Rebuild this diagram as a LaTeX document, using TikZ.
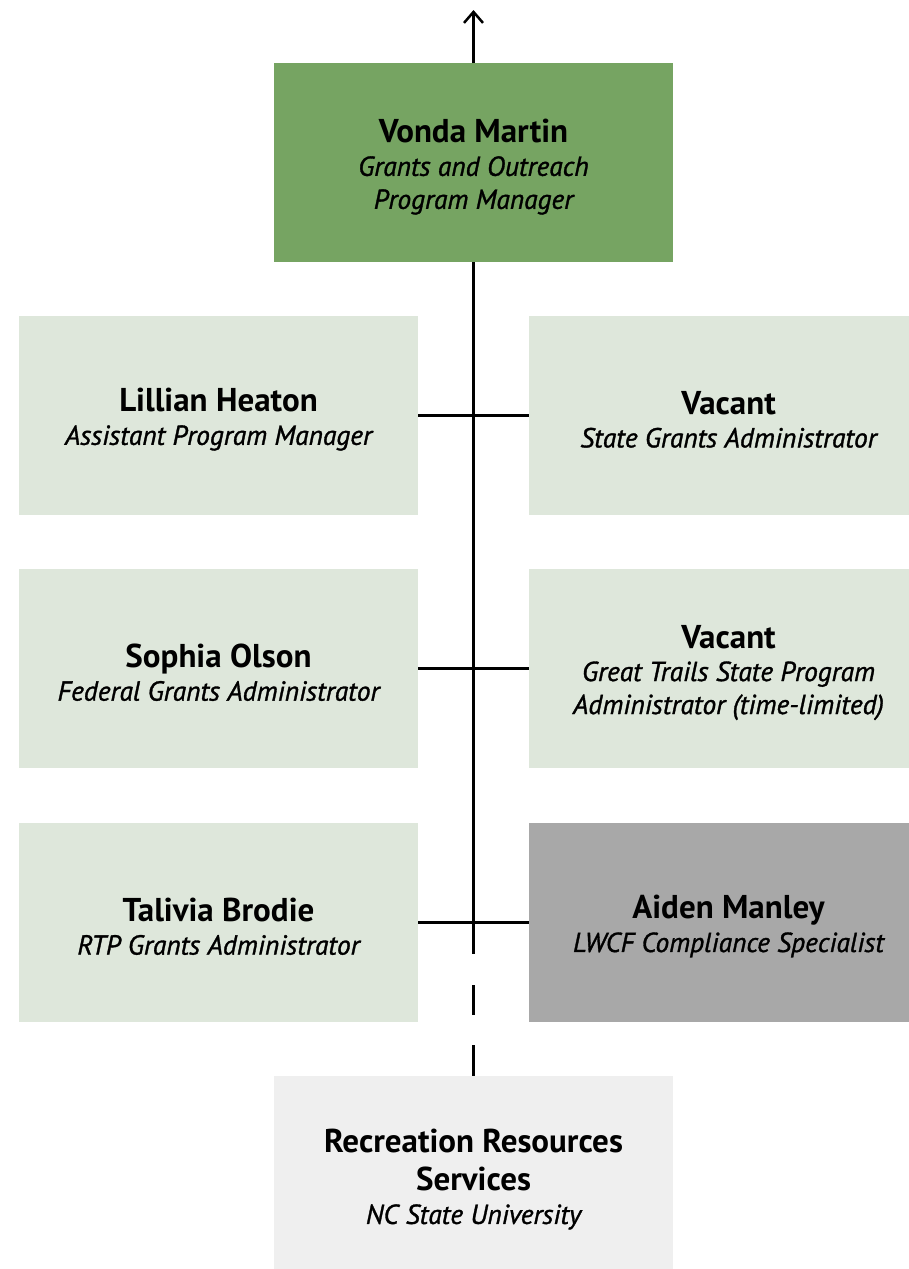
\documentclass[tikz,border=0pt]{standalone}
\usepackage{fontspec}
\setmainfont{PT Sans}
\newfontface\titfont{PT Sans Italic}[FakeBold=1.2]
\usetikzlibrary{arrows.meta}
\definecolor{topgreen}{RGB}{118,164,98}
\definecolor{lightgreen}{RGB}{222,231,219}
\definecolor{midgray}{RGB}{168,168,168}
\definecolor{palegray}{RGB}{239,239,239}
\newcommand\nm[1]{{\fontsize{33}{33}\selectfont\bfseries #1}}
\newcommand\tl[1]{{\titfont\fontsize{27.5}{33}\selectfont #1}}
\tikzset{
  box/.style={minimum width=399pt, minimum height=199pt, inner sep=0pt, outer sep=0pt},
  txt/.style={inner sep=0pt, align=center, font=\fontsize{27.5}{33}\selectfont, text=black},
  conn/.style={line width=2.5pt, black},
}
\begin{document}
\begin{tikzpicture}[x=1pt,y=-1pt]
\useasboundingbox (0,0) rectangle (908,1269);
\node[box, fill=topgreen] (vm) at (473.5,162.5) {};
\node[txt] (vmt) at ([yshift=-4.5pt]vm.center) {\nm{Vonda Martin}\\ \tl{Grants and Outreach}\\ \tl{Program Manager}};
\node[box, fill=lightgreen] (lh) at (218.5,415.5) {};
\node[txt] (lht) at ([yshift=-4pt]lh.center) {\nm{Lillian Heaton}\\ \tl{Assistant Program Manager}};
\node[box, fill=lightgreen] (v1) at (728.5,415.5) {};
\node[txt] (v1t) at ([yshift=-4pt]v1.center) {\nm{Vacant}\\ \tl{State Grants Administrator}};
\node[box, fill=lightgreen] (so) at (218.5,668.5) {};
\node[txt] (sot) at ([yshift=-4pt]so.center) {\nm{Sophia Olson}\\ \tl{Federal Grants Administrator}};
\node[box, fill=lightgreen] (v2) at (728.5,668.5) {};
\node[txt] (v2t) at ([yshift=-4pt]v2.center) {\nm{Vacant}\\ \tl{Great Trails State Program}\\ \tl{Administrator (time-limited)}};
\node[box, fill=lightgreen] (tb) at (218.5,922.5) {};
\node[txt] (tbt) at ([yshift=-4pt]tb.center) {\nm{Talivia Brodie}\\ \tl{RTP Grants Administrator}};
\node[box, fill=midgray] (am) at (728.5,922.5) {};
\node[txt] (amt) at ([yshift=-4pt]am.center) {\nm{Aiden Manley}\\ \tl{LWCF Compliance Specialist}};
\node[box, fill=palegray, minimum height=200pt] (rr) at (473.5,1176) {};
\node[txt] (rrt) at ([yshift=-3.5pt]rr.center) {\nm{Recreation Resources}\\[5pt] \nm{Services}\\ \tl{NC State University}};
\coordinate (up) at (473.5,10);
\draw[conn, -{Straight Barb[length=11pt,width=19pt]}] (vm.north) -- (up);
\draw[conn, dash pattern=on 692pt off 31pt on 30pt off 30pt on 40pt] (vm.south) -- (rr.north);
\draw[conn] (lh.east) -- (v1.west);
\draw[conn] (so.east) -- (v2.west);
\draw[conn] (tb.east) -- (am.west);
\end{tikzpicture}
\end{document}
